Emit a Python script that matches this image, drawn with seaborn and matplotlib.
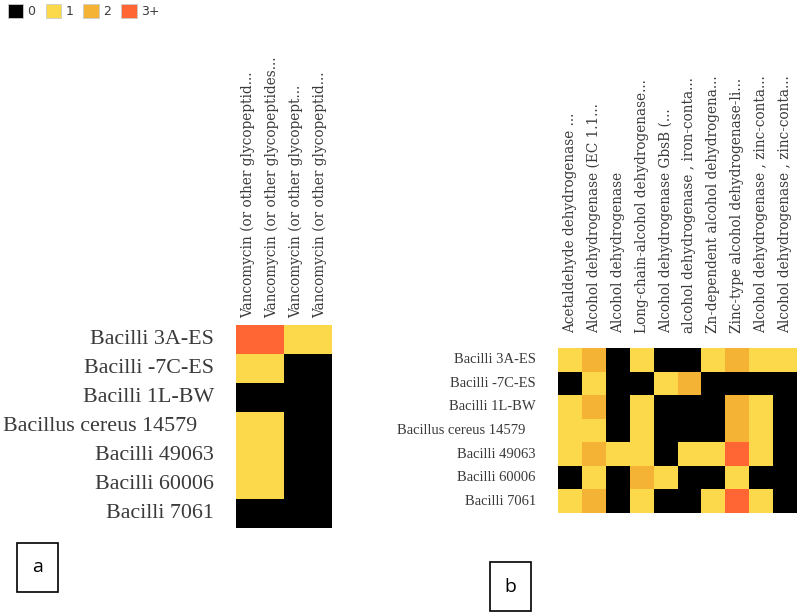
import numpy as np
import pandas as pd
import matplotlib
matplotlib.use("Agg")
import matplotlib.pyplot as plt
from matplotlib.colors import ListedColormap
from matplotlib.patches import Patch, Rectangle
import seaborn as sns

# copy-number classes and their colours
levels = ["0", "1", "2", "3+"]
level_colors = ["#000000", "#FCD94A", "#F5B335", "#FF6633"]

strains_a = ["Bacilli 3A-ES", "Bacilli -7C-ES", "Bacilli 1L-BW", "Bacillus cereus 14579   ",
             "Bacilli 49063", "Bacilli 60006", "Bacilli 7061"]
genes_a = ["Vancomycin (or other glycopeptid...",
           "Vancomycin (or other glycopeptides...",
           "Vancomycin (or other glycopept...",
           "Vancomycin (or other glycopeptid..."]
counts_a = [
    [3, 3, 1, 1],
    [1, 1, 0, 0],
    [0, 0, 0, 0],
    [1, 1, 0, 0],
    [1, 1, 0, 0],
    [1, 1, 0, 0],
    [0, 0, 0, 0],
]

strains_b = strains_a
genes_b = ["Acetaldehyde dehydrogenase ...",
           "Alcohol dehydrogenase (EC 1.1...",
           "Alcohol dehydrogenase",
           "Long-chain-alcohol dehydrogenase...",
           "Alcohol dehydrogenase GbsB (...",
           "alcohol dehydrogenase , iron-conta...",
           "Zn-dependent alcohol dehydrogena...",
           "Zinc-type alcohol dehydrogenase-li...",
           "Alcohol dehydrogenase , zinc-conta...",
           "Alcohol dehydrogenase , zinc-conta..."]
counts_b = [
    [1, 2, 0, 1, 0, 0, 1, 2, 1, 1],
    [0, 1, 0, 0, 1, 2, 0, 0, 0, 0],
    [1, 2, 0, 1, 0, 0, 0, 2, 1, 0],
    [1, 1, 0, 1, 0, 0, 0, 2, 1, 0],
    [1, 2, 1, 1, 0, 1, 1, 3, 1, 0],
    [0, 1, 0, 2, 1, 0, 0, 1, 0, 0],
    [1, 2, 0, 1, 0, 0, 1, 3, 1, 0],
]

sns.set_style("white")
plt.rcParams["font.family"] = ["Liberation Serif", "DejaVu Serif"]
txt_col = "#3a3a3a"
cmap = ListedColormap(level_colors)

fig = plt.figure(figsize=(7.97, 6.12), dpi=100)


def draw(ax, counts, rows, cols, row_fs, col_fs, row_pad, col_pad):
    df = pd.DataFrame(counts, index=rows, columns=cols)
    sns.heatmap(df, ax=ax, cmap=cmap, vmin=-0.5, vmax=3.5, cbar=False,
                linewidths=0, square=False)
    ax.xaxis.tick_top()
    ax.set_xticklabels(cols, rotation=90, fontsize=col_fs, color=txt_col,
                       family="DejaVu Serif")
    ax.set_yticklabels(rows, rotation=0, fontsize=row_fs, color=txt_col)
    ax.tick_params(length=0)
    ax.tick_params(axis="y", pad=row_pad)
    ax.tick_params(axis="x", pad=col_pad)
    ax.set_xlabel("")
    ax.set_ylabel("")


ax_a = fig.add_axes([236 / 797, 1 - 528 / 612, 96 / 797, 203 / 612])
draw(ax_a, counts_a, strains_a, genes_a, 15.8, 9.8, 16, 5)

ax_b = fig.add_axes([558 / 797, 1 - 513 / 612, 239 / 797, 165 / 612])
draw(ax_b, counts_b, strains_b, genes_b, 10.5, 9.8, 16, 11)

handles = [Patch(facecolor=c, edgecolor="#cccccc", linewidth=0.6) for c in level_colors]
fig.legend(handles, levels, loc="upper left", bbox_to_anchor=(0.0, 1.005), ncol=4,
           frameon=False, handlelength=1.25, handleheight=1.25, handletextpad=0.35,
           columnspacing=0.8, borderaxespad=0.2,
           prop={"family": "DejaVu Sans", "size": 9}, labelcolor=txt_col)

# panel letters in boxes
for label, x0, y0 in [("a", 17, 543), ("b", 490, 562)]:
    w, h = 41, 49
    fig.patches.append(Rectangle((x0 / 797, 1 - (y0 + h) / 612), w / 797, h / 612,
                                 transform=fig.transFigure, fill=False,
                                 edgecolor="black", linewidth=1.2))
    fig.text((x0 + w / 2) / 797, 1 - (y0 + h / 2) / 612, label, ha="center", va="center",
             fontsize=14, family="Open Sans", color="black")

fig.savefig("out.png", dpi=100)
